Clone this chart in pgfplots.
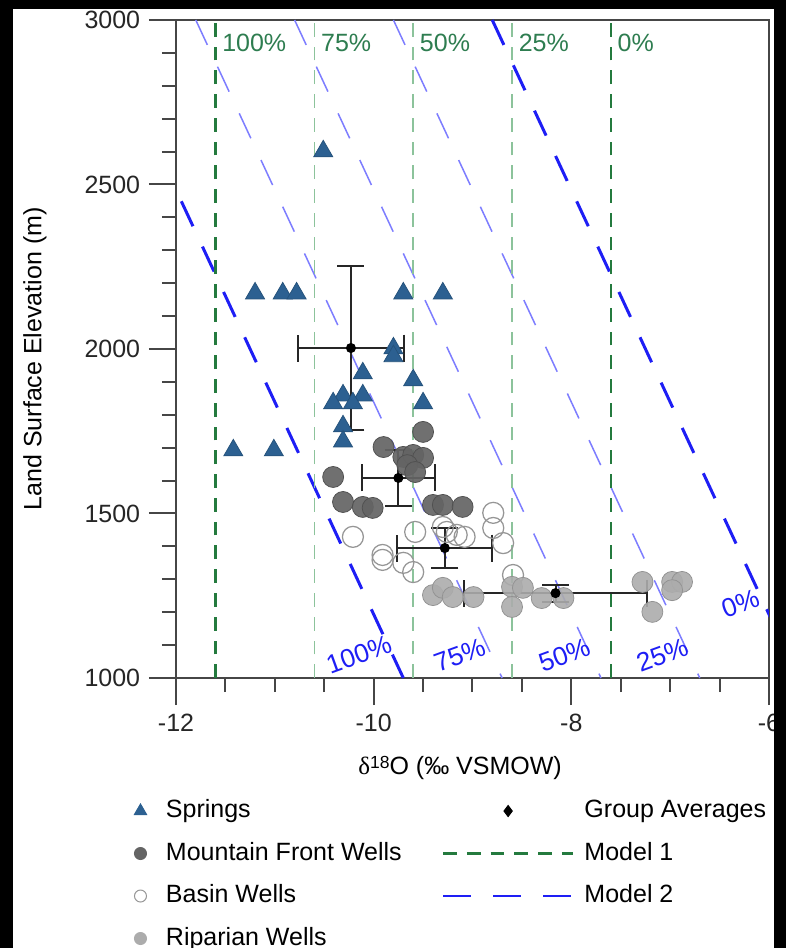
\documentclass[border=0pt]{standalone}
\usepackage{fontspec}
\setmainfont{Liberation Sans}
\newfontfamily\seriffont{Liberation Serif}
\usepackage{pgfplots}
\pgfplotsset{compat=1.18}

\definecolor{springblue}{RGB}{44,96,145}
\definecolor{mfgray}{RGB}{100,100,100}
\definecolor{basingray}{RGB}{150,150,150}
\definecolor{ripgray}{RGB}{172,172,172}
\definecolor{mdark}{RGB}{36,122,62}
\definecolor{mlight}{RGB}{140,195,155}
\definecolor{labgreen}{RGB}{46,125,80}
\definecolor{bdark}{RGB}{30,30,245}
\definecolor{blight}{RGB}{125,125,255}
\definecolor{axisgray}{RGB}{70,70,70}

\pgfplotsset{
  markleg/.style={legend image code/.code={%
    \path (-5pt,0pt) (5pt,0pt);
    \draw[only marks,##1] plot coordinates {(0pt,0pt)};}},
  lineleg/.style={legend image code/.code={%
    \draw[##1] (0pt,0pt) -- (52pt,0pt);}},
  avgleg/.style={legend image code/.code={%
    \path (0pt,0pt) (52pt,0pt);
    \draw[only marks,##1] plot coordinates {(26pt,0pt)};}},
}

\begin{document}
\begin{tikzpicture}
\fill[white] (-70.4pt,-108pt) rectangle (244pt,271.2pt);
\useasboundingbox (-70.4pt,-108pt) rectangle (244pt,271.2pt);
\begin{axis}[
  at={(0pt,0pt)}, anchor=south west,
  scale only axis, width=237.2pt, height=263.2pt,
  xmin=-12, xmax=-6, ymin=1000, ymax=3000,
  xtick={-12,-10,-8,-6}, xticklabels={-12,-10,-8,-6},
  ytick={1000,1500,2000,2500,3000}, yticklabels={1000,1500,2000,2500,3000},
  minor x tick num=3, minor y tick num=4,
  xtick pos=left, ytick pos=left,
  tick align=outside,
  major tick length=10.8pt, minor tick length=5.6pt,
  every tick/.style={axisgray, line width=0.8pt},
  axis line style={axisgray, line width=0.9pt},
  tick label style={font=\fontsize{10}{12}\selectfont, text=black!85},
  xlabel={{\seriffont δ}\raisebox{0.45ex}{\fontsize{7}{8}\selectfont 18}O (‰ VSMOW)},
  ylabel={Land Surface Elevation (m)},
  label style={font=\fontsize{12}{14}\selectfont, text=black!85},
  every axis x label/.style={at={(axis description cs:0.479,-0.137)}, anchor=center},
  every axis y label/.style={at={(axis description cs:-0.238,0.485)}, anchor=center, rotate=90},
  legend columns=2,
  legend cell align=left,
  legend style={draw=none, fill=none, inner sep=0pt, outer sep=0pt,
    at={(-0.0818,-0.1765)}, anchor=north west,
    font=\fontsize{10}{12}\selectfont,
    nodes={inner sep=2pt, text height=7.5pt, text depth=2pt},
    row sep=3.5pt,
    /tikz/column 1/.style={column sep=3pt},
    /tikz/column 2/.style={column sep=14pt},
    /tikz/column 3/.style={column sep=2pt}},
]
% legend entries, row by row
\addlegendimage{markleg, mark=triangle*, mark size=2.8pt, color=springblue}
\addlegendentry{Springs}
\addlegendimage{avgleg, mark=diamond*, mark size=2.2pt, color=black}
\addlegendentry{Group Averages}
\addlegendimage{markleg, mark=*, mark size=2.4pt, color=mfgray}
\addlegendentry{Mountain Front Wells}
\addlegendimage{lineleg, mdark, line width=0.9pt, dash pattern=on 5.5pt off 4pt}
\addlegendentry{Model 1}
\addlegendimage{markleg, mark=o, mark size=2.4pt, color=basingray}
\addlegendentry{Basin Wells}
\addlegendimage{lineleg, bdark, line width=1.1pt, dash pattern=on 11pt off 9pt}
\addlegendentry{Model 2}
\addlegendimage{markleg, mark=*, mark size=2.4pt, color=ripgray}
\addlegendentry{Riparian Wells}

% Model 2 (blue, sloped)
\addplot[forget plot, bdark, line width=1.2pt, dash pattern=on 11pt off 9pt] coordinates {(-12.8,3000) (-9.7,1000)};
\addplot[forget plot, blight, line width=0.6pt, dash pattern=on 11pt off 9.6pt] coordinates {(-11.8,3000) (-8.7,1000)};
\addplot[forget plot, blight, line width=0.6pt, dash pattern=on 11pt off 9.6pt] coordinates {(-10.8,3000) (-7.7,1000)};
\addplot[forget plot, blight, line width=0.6pt, dash pattern=on 11pt off 9.6pt] coordinates {(-9.8,3000) (-6.7,1000)};
\addplot[forget plot, bdark, line width=1.2pt, dash pattern=on 11pt off 9pt] coordinates {(-8.8,3000) (-5.7,1000)};

% Model 1 (green, vertical)
\addplot[forget plot, mdark, line width=1pt, dash pattern=on 5.5pt off 4pt] coordinates {(-11.6,1000) (-11.6,3000)};
\addplot[forget plot, mlight, line width=0.6pt, dash pattern=on 5.5pt off 4pt] coordinates {(-10.6,1000) (-10.6,3000)};
\addplot[forget plot, mlight, line width=0.6pt, dash pattern=on 5.5pt off 4pt] coordinates {(-9.6,1000) (-9.6,3000)};
\addplot[forget plot, mlight, line width=0.6pt, dash pattern=on 5.5pt off 4pt] coordinates {(-8.6,1000) (-8.6,3000)};
\addplot[forget plot, mdark, line width=1pt, dash pattern=on 5.5pt off 4pt] coordinates {(-7.6,1000) (-7.6,3000)};

\node[font=\fontsize{10}{12}\selectfont, text=labgreen, anchor=west, inner sep=2.5pt] at (axis cs:-11.6,2930) {100\%};
\node[font=\fontsize{10}{12}\selectfont, text=labgreen, anchor=west, inner sep=2.5pt] at (axis cs:-10.6,2930) {75\%};
\node[font=\fontsize{10}{12}\selectfont, text=labgreen, anchor=west, inner sep=2.5pt] at (axis cs:-9.6,2930) {50\%};
\node[font=\fontsize{10}{12}\selectfont, text=labgreen, anchor=west, inner sep=2.5pt] at (axis cs:-8.6,2930) {25\%};
\node[font=\fontsize{10}{12}\selectfont, text=labgreen, anchor=west, inner sep=2.5pt] at (axis cs:-7.6,2930) {0\%};

\node[font=\fontsize{10.5}{12}\selectfont, text=bdark, rotate=20, inner sep=1pt] at (axis cs:-10.15,1070) {100\%};
\node[font=\fontsize{10.5}{12}\selectfont, text=bdark, rotate=20, inner sep=1pt] at (axis cs:-9.13,1070) {75\%};
\node[font=\fontsize{10.5}{12}\selectfont, text=bdark, rotate=20, inner sep=1pt] at (axis cs:-8.07,1070) {50\%};
\node[font=\fontsize{10.5}{12}\selectfont, text=bdark, rotate=20, inner sep=1pt] at (axis cs:-7.08,1070) {25\%};
\node[font=\fontsize{10.5}{12}\selectfont, text=bdark, rotate=20, inner sep=1pt] at (axis cs:-6.29,1225) {0\%};

% Springs
\addplot[forget plot, only marks, mark=triangle*, mark size=4.4pt,
  mark options={fill=springblue, draw=springblue!85!black, line width=0.3pt}] coordinates {
  (-10.51,2601) (-11.20,2169) (-10.92,2169) (-10.78,2169) (-9.70,2169) (-9.30,2169)
  (-9.80,2002) (-9.80,1978) (-10.11,1926) (-9.60,1905) (-10.31,1859) (-10.11,1859)
  (-10.41,1835) (-10.21,1835) (-9.50,1835) (-10.31,1765) (-10.31,1719)
  (-11.42,1692) (-11.01,1692)
};
% Mountain Front Wells
\addplot[forget plot, only marks, mark=*, mark size=4.2pt,
  mark options={fill=mfgray, draw=mfgray!80!black, line width=0.3pt, fill opacity=0.92}] coordinates {
  (-9.50,1748) (-9.90,1702) (-9.70,1672) (-9.60,1678) (-9.50,1669) (-9.66,1647)
  (-9.58,1626) (-10.41,1611) (-10.31,1535) (-10.11,1520) (-10.01,1517)
  (-9.40,1526) (-9.30,1526) (-9.10,1520)
};
% Basin Wells
\addplot[forget plot, only marks, mark=o, mark size=4.2pt,
  mark options={draw=basingray, line width=0.5pt}] coordinates {
  (-8.79,1502) (-8.79,1456) (-8.69,1410) (-10.21,1429) (-9.58,1444) (-9.30,1459)
  (-9.26,1444) (-9.16,1435) (-9.08,1429) (-9.91,1374) (-9.91,1359) (-9.70,1350)
  (-9.60,1322) (-8.59,1313)
};
% Riparian Wells
\addplot[forget plot, only marks, mark=*, mark size=4.2pt,
  mark options={fill=ripgray, draw=ripgray!85!black, line width=0.3pt, fill opacity=0.9}] coordinates {
  (-9.40,1252) (-9.30,1274) (-9.20,1246) (-8.99,1246) (-8.60,1277) (-8.60,1216)
  (-8.49,1274) (-8.30,1243) (-8.08,1243) (-7.28,1292) (-7.18,1201) (-6.98,1292)
  (-6.88,1292) (-6.98,1267)
};
% Group averages with error bars
\addplot[forget plot, only marks, mark=*, mark size=1.8pt, color=black,
  error bars/.cd, x dir=both, x explicit, y dir=both, y explicit,
  error bar style={line width=0.8pt, black!85},
  error mark options={rotate=90, mark size=5.4pt, line width=0.8pt, black!85}]
  coordinates {
  (-10.23,2003) +- (0.54,249)
  (-9.75,1608) +- (0.37,84)
  (-9.28,1395) +- (0.48,60)
  (-8.16,1258) +- (0.93,26)
};
\end{axis}
% dark border of the source image
\fill[black] (-70.4pt,-108pt) rectangle (-65.2pt,271.2pt);
\fill[black] (-70.4pt,267.6pt) rectangle (244pt,271.2pt);
\fill[black] (239.2pt,-108pt) rectangle (244pt,271.2pt);
\end{tikzpicture}
\end{document}
